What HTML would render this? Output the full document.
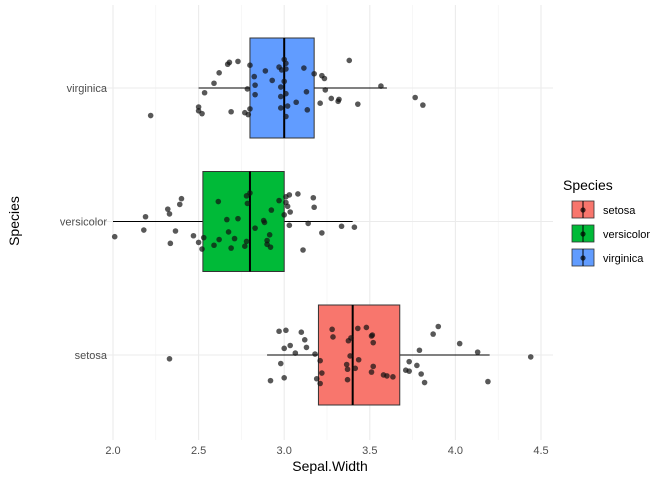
<!DOCTYPE html>
<html><head><meta charset="utf-8"><style>
body{margin:0;background:#fff;font-family:"Liberation Sans",Arial,sans-serif}
svg text{font-family:"Liberation Sans",Arial,sans-serif}
</style></head><body>
<svg id="chart" width="672" height="480" xmlns="http://www.w3.org/2000/svg">
<g id="grid"></g>
<g id="boxes"></g>
<g id="points"></g>
<g id="axes"></g>
<text x="330" y="471" font-size="14" text-anchor="middle" fill="#000">Sepal.Width</text>
<text transform="translate(19,221) rotate(-90)" font-size="14" text-anchor="middle" fill="#000">Species</text>
<g>
<text x="563" y="190" font-size="14" fill="#000">Species</text>
<g id="legend-entries"></g>
</g>
</svg>
<script>
const categories = ["setosa","versicolor","virginica"];
const colors = ["#F8766D","#00BA38","#619CFF"];
const q1 = [3.2, 2.525, 2.8];
const medians = [3.4, 2.8, 3.0];
const q3 = [3.675, 3.0, 3.175];
const whiskLo = [2.9, 2.0, 2.5];
const whiskHi = [4.2, 3.4, 3.6];
const xTicks = [2.0,2.5,3.0,3.5,4.0,4.5];
const xTickLabels = ["2.0","2.5","3.0","3.5","4.0","4.5"];
const setosaW = [3.5,3.0,3.2,3.1,3.6,3.9,3.4,3.4,2.9,3.1,3.7,3.4,3.0,3.0,4.0,4.4,3.9,3.5,3.8,3.8,3.4,3.7,3.6,3.3,3.4,3.0,3.4,3.5,3.4,3.2,3.1,3.4,4.1,4.2,3.1,3.2,3.5,3.6,3.0,3.4,3.5,2.3,3.2,3.5,3.8,3.0,3.8,3.2,3.7,3.3];
const versicolorW = [3.2,3.2,3.1,2.3,2.8,2.8,3.3,2.4,2.9,2.7,2.0,3.0,2.2,2.9,2.9,3.1,3.0,2.7,2.2,2.5,3.2,2.8,2.5,2.8,2.9,3.0,2.8,3.0,2.9,2.6,2.4,2.4,2.7,2.7,3.0,3.4,3.1,2.3,3.0,2.5,2.6,3.0,2.6,2.3,2.7,3.0,2.9,2.9,2.5,2.8];
const virginicaW = [3.3,2.7,3.0,2.9,3.0,3.0,2.5,2.9,2.5,3.6,3.2,2.7,3.0,2.5,2.8,3.2,3.0,3.8,2.6,2.2,3.2,2.8,2.8,2.7,3.3,3.2,2.8,3.0,2.8,3.0,2.8,3.8,2.8,2.8,2.6,3.0,3.4,3.1,3.0,3.1,3.1,3.1,2.7,3.2,3.3,3.0,2.5,3.0,3.4,3.0];
const jitterY = [0.12,-0.25,0.3,-0.08,0.21,-0.3,0.05,-0.18,0.27,-0.02,0.16,-0.28,0.09,0.24,-0.12,0.02,-0.22,0.18,-0.05,0.29,-0.15,0.07,0.22,-0.27,0.14,-0.1,0.26,-0.2,0.01,0.19,-0.24,0.1,-0.03,0.28,-0.16,0.06,-0.29,0.23,-0.07,0.15,-0.21,0.04,0.25,-0.13,0.11,-0.26,0.2,-0.01,0.17,-0.19];
const jitterX = [0.02,-0.03,0.01,0.03,-0.02,0.0,0.035,-0.01,0.02,-0.035,0.01,0.03,-0.02,0.0,0.025,0.04,-0.03,0.01,-0.01,0.02,-0.025,0.03,0.0,-0.02,0.015,0.035,-0.03,0.01,-0.015,0.02,0.0,-0.035,0.03,-0.01,0.02,0.01,-0.02,0.035,0.0,-0.03,0.015,0.03,-0.01,0.02,-0.025,0.01,0.0,-0.02,0.03,-0.015];
const widths = [setosaW, versicolorW, virginicaW];

const NS="http://www.w3.org/2000/svg";
const X = v => 113 + (v-2)*171.2;
const Y = i => 355 - i*133.5;
const PL=90, PR=553, PT=5, PB=440;
function mk(tag, parent, attrs){const e=document.createElementNS(NS,tag);for(const k in attrs)e.setAttribute(k,attrs[k]);parent.appendChild(e);return e;}
const grid=document.getElementById('grid'), axes=document.getElementById('axes');
for(let i=0;i<xTicks.length-1;i++){
  const m=(xTicks[i]+xTicks[i+1])/2;
  const l=mk('line',grid,{x1:X(m),x2:X(m),y1:PT,y2:PB,stroke:'#f2f2f2','stroke-width':0.6});
  
  
}
xTicks.forEach((t,i)=>{
  const l=mk('line',grid,{x1:X(t),x2:X(t),y1:PT,y2:PB,stroke:'#ebebeb','stroke-width':1.1});
  
  
  const tx=mk('text',axes,{x:X(t),y:454,'font-size':11,'text-anchor':'middle',fill:'#4d4d4d'});
  tx.textContent=xTickLabels[i];
  
  
});
categories.forEach((c,i)=>{
  const l=mk('line',grid,{x1:PL,x2:PR,y1:Y(i),y2:Y(i),stroke:'#ebebeb','stroke-width':1.1});
  
  
  const tx=mk('text',axes,{x:107,y:Y(i)+4,'font-size':11,'text-anchor':'end',fill:'#4d4d4d'});
  tx.textContent=c;
  
  
});
const boxes=document.getElementById('boxes');
categories.forEach((c,i)=>{
  const g=mk('g',boxes,{});
  
  
  const y=Y(i), h=50;
  mk('line',g,{x1:X(whiskLo[i]),x2:X(q1[i]),y1:y,y2:y,stroke:'#000','stroke-width':1});
  mk('line',g,{x1:X(q3[i]),x2:X(whiskHi[i]),y1:y,y2:y,stroke:'#000','stroke-width':1});
  mk('rect',g,{x:X(q1[i]),y:y-h,width:X(q3[i])-X(q1[i]),height:2*h,fill:colors[i],stroke:'#333','stroke-width':1});
  mk('line',g,{x1:X(medians[i]),x2:X(medians[i]),y1:y-h,y2:y+h,stroke:'#000','stroke-width':2});
});
const pts=document.getElementById('points');
widths.forEach((arr,i)=>{
  arr.forEach((v,j)=>{
    const p=mk('circle',pts,{cx:X(v+jitterX[j]),cy:Y(i)+jitterY[j]*95,r:2.8,fill:'#111','fill-opacity':0.7});
    
    
  });
});
const leg=document.getElementById('legend-entries');
categories.forEach((c,i)=>{
  const y=210+i*24;
  const g=mk('g',leg,{});
  
  
  mk('rect',g,{x:572,y:y-9,width:22,height:17,fill:colors[i],stroke:'#333','stroke-width':0.8});
  mk('line',g,{x1:583,x2:583,y1:y-9,y2:y+8,stroke:'#000','stroke-width':1});
  mk('circle',g,{cx:583,cy:y,r:2.6,fill:'#000','fill-opacity':0.7});
  const t=mk('text',g,{x:603,y:y+4,'font-size':11,fill:'#000'});
  t.textContent=c;
});
</script>
</body></html>
